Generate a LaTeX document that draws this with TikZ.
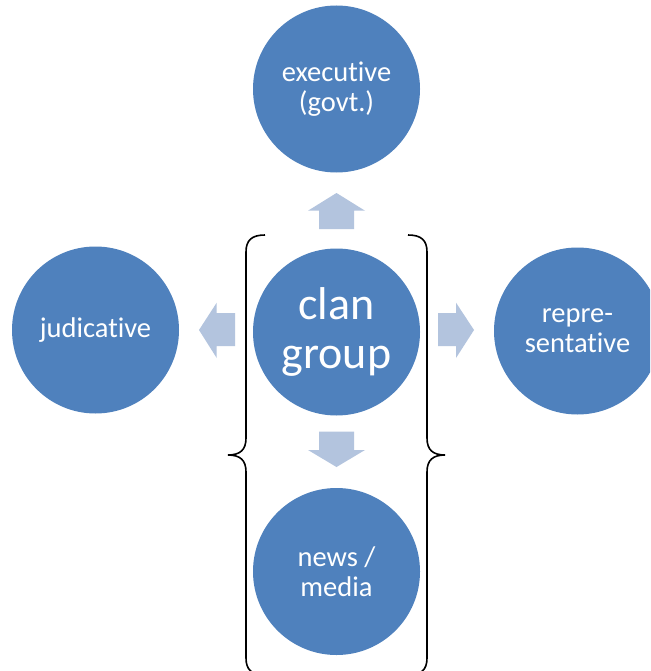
\documentclass[tikz,border=0pt]{standalone}
\usepackage{fontspec}
\setmainfont[Ligatures=NoCommon,RawFeature={-liga;-clig;-dlig}]{Carlito}
\definecolor{circblue}{HTML}{4F81BD}
\definecolor{arrowblue}{HTML}{B3C4DE}
\tikzset{
  bubble/.style={circle, fill=circblue, draw=none, text=white, minimum size=167pt, inner sep=0pt, align=center, font=\fontsize{28.5}{30}\selectfont},
  bigbubble/.style={bubble, font=\fontsize{46}{49}\selectfont},
  blockarrow/.style={fill=arrowblue, draw=none},
  bracket/.style={draw=black, line width=1.6pt}
}
\begin{document}
\begin{tikzpicture}[x=1pt,y=-1pt]
\clip (0,0) rectangle (650,671);
\fill[white] (0,0) rectangle (650,671);
\node[bubble] (exec) at (336.5,89) {executive\\(govt.)};
\node[bigbubble] (clan) at (336.5,332) {clan\\group};
\node[bubble] (jud) at (95.5,330) {judicative};
\node[bubble] (rep) at (577.5,331) {repre-\\sentative};
\node[bubble] (news) at (336.5,571.5) {news /\\media};
% block arrows
\path[blockarrow] (319,229) -- (319,210.7) -- (308,210.7) -- (336.5,193) -- (365,210.7) -- (354,210.7) -- (354,229) -- cycle;
\path[blockarrow] (235,313) -- (216.7,313) -- (216.7,302.7) -- (199,330) -- (216.7,358) -- (216.7,346) -- (235,346) -- cycle;
\path[blockarrow] (438,313) -- (456,313) -- (456,302.7) -- (474,330) -- (456,358) -- (456,346) -- (438,346) -- cycle;
\path[blockarrow] (319,431.7) -- (354,431.7) -- (354,450) -- (365,450) -- (336.5,467) -- (308,450) -- (319,450) -- cycle;
% braces
\draw[bracket] (265,235) .. controls (252,235) and (246,240) .. (246,252) -- (246,438) .. controls (246,450) and (240,455) .. (228,455) .. controls (240,455) and (246,460) .. (246,472) -- (246,658) .. controls (246,670) and (252,675) .. (265,675);
\draw[bracket] (408,235) .. controls (421,235) and (427,240) .. (427,252) -- (427,438) .. controls (427,450) and (433,455) .. (445,455) .. controls (433,455) and (427,460) .. (427,472) -- (427,658) .. controls (427,670) and (421,675) .. (408,675);
\end{tikzpicture}
\end{document}
